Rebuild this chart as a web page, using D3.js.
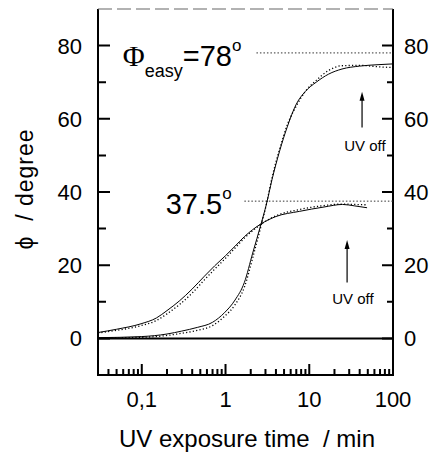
<!DOCTYPE html>
<html>
<head>
<meta charset="utf-8">
<script src="https://cdn.jsdelivr.net/npm/d3@7"></script>
<style>
  html, body { margin: 0; padding: 0; background: #fff; }
  svg { display: block; }
  text { font-family: "Liberation Sans", Arial, sans-serif; fill: #000; }
</style>
</head>
<body>
<svg id="chart" width="436" height="464"></svg>
<script>
// --- Data ---
// lower curve (plateau ~36 deg), measured and fit
const timeA = [0.03, 0.05, 0.098, 0.15, 0.2, 0.28, 0.4, 0.56, 0.74, 1.0, 1.3, 1.68, 2.66, 4, 7.6, 15, 25, 35, 49];
const phiA = [1.6, 2.5, 4.0, 5.6, 7.6, 10.2, 13.5, 17.0, 19.8, 22.6, 25.2, 27.8, 31.3, 33.3, 34.7, 35.9, 36.6, 36.2, 35.7];
const phiAFit = [1.5, 2.2, 3.5, 4.9, 6.7, 9.2, 12.4, 16.0, 18.9, 21.9, 24.7, 27.4, 31.2, 33.5, 35.2, 36.3, 36.7, 36.6, 36.5];

// upper curve (plateau ~75 deg), measured and fit
const timeB = [0.03, 0.1, 0.2, 0.3, 0.46, 0.7, 0.97, 1.3, 1.68, 2.11, 2.66, 3.08, 3.6, 4.4, 5.5, 7.0, 9, 12.1, 17, 24.6, 40, 68, 100];
const phiB = [0.2, 0.5, 1.2, 2.0, 3.0, 4.4, 7.0, 10.5, 15.3, 23.3, 31.3, 36.7, 43.5, 51, 58, 64, 67.5, 70, 72.2, 73.6, 74.4, 74.8, 75];
const phiBFit = [0.1, 0.3, 0.8, 1.4, 2.2, 3.5, 6.0, 9.2, 14.0, 22.0, 30.8, 36.7, 44.0, 51.5, 58.5, 63.5, 67.5, 70.5, 73.2, 74.5, 74.6, 74.2, 74];

const xMajor = [0.1, 1, 10, 100];
const yMajor = [0, 20, 40, 60, 80];
const yMinor = [10, 30, 50, 70];
const easyAngle = 78;
const lowAngle = 37.5;

// --- Layout ---
const svg = d3.select("#chart");
const plotLeft = 98, plotRight = 393, plotTop = 9, plotBottom = 375;

const x = d3.scaleLog().domain([0.03, 100]).range([plotLeft, plotRight]);
const y = d3.scaleLinear().domain([-10, 90]).range([plotBottom, plotTop]);

const xMinor = [];
[0.01, 0.1, 1, 10].forEach(d => {
  for (let k = 2; k <= 9; k++) {
    const v = +(d * k).toPrecision(2);
    if (v >= 0.03 && v <= 100) xMinor.push(v);
  }
});

// --- Tick labels ---
const fmtX = d => String(d).replace(".", ",");
svg.append("g").selectAll("text").data(xMajor).join("text")
  .attr("x", d => x(d)).attr("y", 407).attr("text-anchor", "middle").attr("font-size", 22)
  .text(fmtX);
svg.append("g").selectAll("text").data(yMajor).join("text")
  .attr("x", plotLeft - 16).attr("y", d => y(d)).attr("dy", "0.36em")
  .attr("text-anchor", "end").attr("font-size", 22).text(d => d);
svg.append("g").selectAll("text").data(yMajor).join("text")
  .attr("x", plotRight + 11).attr("y", d => y(d)).attr("dy", "0.36em")
  .attr("text-anchor", "start").attr("font-size", 22).text(d => d);

// --- Frame ---
const frame = svg.append("g").attr("stroke", "#000").attr("stroke-width", 2);
frame.append("line").attr("x1", plotLeft).attr("x2", plotLeft).attr("y1", plotTop).attr("y2", plotBottom);
frame.append("line").attr("x1", plotRight).attr("x2", plotRight).attr("y1", plotTop).attr("y2", plotBottom);
frame.append("line").attr("x1", plotLeft - 1).attr("x2", plotRight + 1).attr("y1", plotBottom).attr("y2", plotBottom);
frame.append("line").attr("x1", plotLeft).attr("x2", plotRight).attr("y1", y(0)).attr("y2", y(0));
svg.append("line")
  .attr("x1", plotLeft).attr("x2", plotRight).attr("y1", plotTop).attr("y2", plotTop)
  .attr("stroke", "#666").attr("stroke-width", 1.2).attr("stroke-dasharray", "14,5");

// --- Ticks (pointing inward), one path for all axes ---
const tickPath = [
  ...xMajor.map(d => `M${x(d)},${plotBottom}V${plotBottom - 11}`),
  ...xMinor.map(d => `M${x(d)},${plotBottom}V${plotBottom - 6}`),
  ...yMajor.map(d => `M${plotLeft},${y(d)}H${plotLeft + 12}`),
  ...yMinor.map(d => `M${plotLeft},${y(d)}H${plotLeft + 8}`),
  ...yMajor.map(d => `M${plotRight},${y(d)}H${plotRight - 11}`),
  ...yMinor.map(d => `M${plotRight},${y(d)}H${plotRight - 6}`),
].join("");
svg.append("path")
  .attr("d", tickPath)
  .attr("fill", "none")
  .attr("stroke", "#000")
  .attr("stroke-width", 2);

// --- Reference lines ---
svg.append("line")
  .attr("x1", x(2.34)).attr("x2", plotRight).attr("y1", y(easyAngle)).attr("y2", y(easyAngle))
  .attr("stroke", "#333").attr("stroke-width", 1).attr("stroke-dasharray", "1.5,2");
svg.append("line")
  .attr("x1", x(1.68)).attr("x2", plotRight).attr("y1", y(lowAngle)).attr("y2", y(lowAngle))
  .attr("stroke", "#333").attr("stroke-width", 1).attr("stroke-dasharray", "1.5,2");

// --- Curves ---
const line = d3.line().x(d => x(d[0])).y(d => y(d[1])).curve(d3.curveMonotoneX);
const series = [
  { t: timeA, v: phiA, dash: null },
  { t: timeA, v: phiAFit, dash: "1.2,2.2" },
  { t: timeB, v: phiB, dash: null },
  { t: timeB, v: phiBFit, dash: "1.2,2.2" },
];
svg.append("g").selectAll("path")
  .data(series)
  .join("path")
  .attr("d", s => line(d3.zip(s.t, s.v)))
  .attr("fill", "none")
  .attr("stroke", "#000")
  .attr("stroke-width", s => s.dash ? 1.3 : 1)
  .attr("stroke-dasharray", s => s.dash);

// --- Annotations ---
const ann = svg.append("text").attr("x", x(0.0594)).attr("y", y(74.5));
ann.append("tspan").text("Φ")
  .style("font-family", "'Liberation Serif', 'Times New Roman', serif").attr("font-size", 30);
ann.append("tspan").text("easy").attr("font-size", 18).attr("dy", 11);
ann.append("tspan").text("=78").attr("font-size", 29).attr("dy", -11);
ann.append("tspan").text("o").attr("font-size", 17).attr("dy", -15);

const ann2 = svg.append("text").attr("x", x(0.193)).attr("y", y(34.1));
ann2.append("tspan").text("37.5").attr("font-size", 29);
ann2.append("tspan").text("o").attr("font-size", 17).attr("dy", -15);

// UV off arrows
const arrows = [
  { t: 42.7, from: 57.6, to: 67.4, lt: 26.1, lv: 51.3 },
  { t: 28.3, from: 15.3, to: 26.9, lt: 18.8, lv: 9.5 },
];
arrows.forEach(a => {
  svg.append("line")
    .attr("x1", x(a.t)).attr("x2", x(a.t)).attr("y1", y(a.from)).attr("y2", y(a.to) + 8)
    .attr("stroke", "#000").attr("stroke-width", 1.2);
  svg.append("path")
    .attr("d", `M${x(a.t) - 2.5},${y(a.to) + 9} L${x(a.t)},${y(a.to)} L${x(a.t) + 2.5},${y(a.to) + 9} Z`)
    .attr("fill", "#000");
  svg.append("text").attr("x", x(a.lt)).attr("y", y(a.lv)).attr("font-size", 15).text("UV off");
});

// --- Axis titles ---
svg.append("text")
  .attr("x", 247).attr("y", 447).attr("text-anchor", "middle").attr("font-size", 24)
  .style("white-space", "pre")
  .text("UV exposure time  / min");

svg.append("text")
  .attr("transform", "translate(33,189) rotate(-90)")
  .attr("text-anchor", "middle").attr("font-size", 23).attr("letter-spacing", 1)
  .style("white-space", "pre")
  .text("ϕ  / degree");
</script>
</body>
</html>
